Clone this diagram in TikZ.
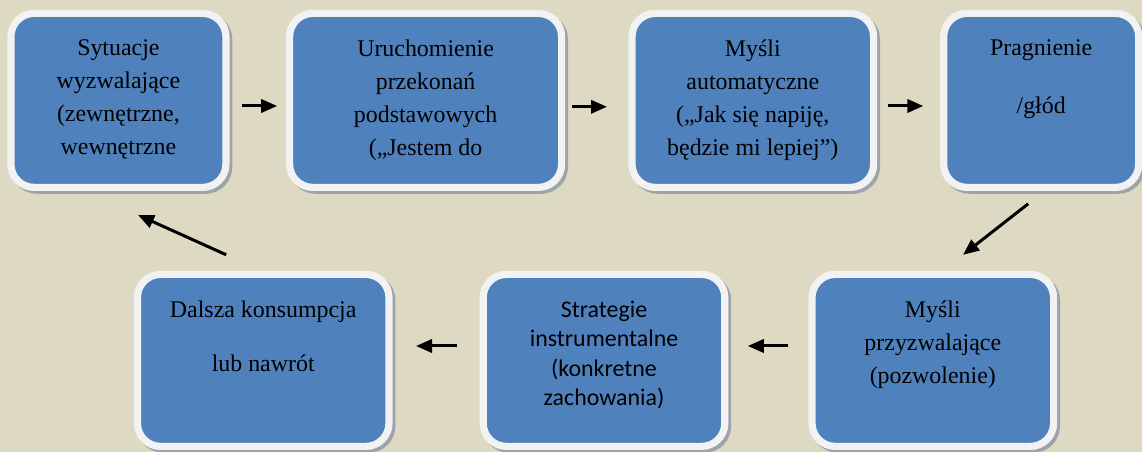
\documentclass[tikz,border=0pt]{standalone}
\usepackage{fontspec}
\setmainfont{Liberation Serif}
\newfontfamily\stageSans{Carlito}
\usetikzlibrary{arrows.meta,positioning}

\definecolor{tanBg}{HTML}{DDD9C3}
\definecolor{boxBlue}{HTML}{4F81BD}
\definecolor{rimWhite}{HTML}{F2F2F2}
\definecolor{shadowGray}{HTML}{9EA3A8}

\begin{document}
\begin{tikzpicture}[
    font=\fontsize{17}{23.5}\selectfont,
    stage/.style={draw=rimWhite, fill=boxBlue, line width=0.18cm,
      rounded corners=0.58cm, inner sep=0pt, outer sep=0pt,
      minimum height=4.35cm,
      preaction={draw=shadowGray, fill=shadowGray,
        transform canvas={shift={(0.07,-0.07)}}}},
    stageText/.style={anchor=north, align=center, inner sep=0pt},
    flow/.style={-{Triangle[length=0.4cm, width=0.33cm]}, line width=0.075cm},
  ]

% ---- background ------------------------------------------------------
\path[use as bounding box, fill=tanBg] (0,0) rectangle (28.55,11.3);

% ---- upper row -------------------------------------------------------
\node[stage, minimum width=5.375cm] (sit)  at (2.96,8.79)  {};
\node[stage, minimum width=6.8cm]   (bel)  at (10.64,8.79) {};
\node[stage, minimum width=6.04cm]  (aut)  at (18.82,8.79) {};
\node[stage, minimum width=4.875cm] (crav) at (26.03,8.79) {};

\node[stageText, below=0.65cm of sit.north] (sitT)
  {Sytuacje\\wyzwalające\\(zewnętrzne,\\wewnętrzne};
\node[stageText, below=0.65cm of bel.north] (belT)
  {Uruchomienie\\przekonań\\podstawowych\\(„Jestem do};
\node[stageText, below=0.65cm of aut.north] (autT)
  {Myśli\\automatyczne\\(„Jak się napiję,\\będzie mi lepiej”)};
\node[stageText, below=0.65cm of crav.north] (cravT)
  {Pragnienie\\[0.625cm]/głód};

% ---- lower row -------------------------------------------------------
\node[stage, minimum width=6.29cm, minimum height=4.3cm] (relapse) at (6.58,2.29) {};
\node[stage, minimum width=6.04cm, minimum height=4.3cm] (instr)   at (15.1,2.29) {};
\node[stage, minimum width=6.04cm, minimum height=4.3cm] (perm)    at (23.32,2.29) {};

\node[stageText, below=0.65cm of relapse.north] (relapseT)
  {Dalsza konsumpcja\\[0.525cm]lub nawrót};
\node[stageText, font=\stageSans\fontsize{17}{21}\selectfont,
      below=0.65cm of instr.north] (instrT)
  {Strategie\\instrumentalne\\(konkretne\\zachowania)};
\node[stageText, below=0.65cm of perm.north] (permT)
  {Myśli\\przyzwalające\\(pozwolenie)};

% ---- arrows ----------------------------------------------------------
\draw[flow, shorten <=0.4cm, shorten >=0.31cm]
  ([yshift=-0.14cm]sit.east) -- ([yshift=-0.14cm]bel.west);
\draw[flow, shorten <=0.26cm, shorten >=0.625cm]
  ([yshift=-0.16cm]bel.east) -- ([yshift=-0.16cm]aut.west);
\draw[flow, shorten <=0.36cm, shorten >=0.51cm]
  ([yshift=-0.14cm]aut.east) -- ([yshift=-0.14cm]crav.west);
\draw[flow] ([xshift=-0.325cm, yshift=-0.41cm]crav.south)
  -- ([xshift=0.756cm, yshift=0.49cm]perm.north);
\draw[flow, shorten <=0.6cm, shorten >=0.575cm]
  ([yshift=0.36cm]perm.west) -- ([yshift=0.36cm]instr.east);
\draw[flow, shorten <=0.66cm, shorten >=0.675cm]
  ([yshift=0.36cm]instr.west) -- ([yshift=0.36cm]relapse.east);
\draw[flow] ([xshift=-0.925cm, yshift=0.49cm]relapse.north)
  -- ([xshift=0.49cm, yshift=-0.69cm]sit.south);

\end{tikzpicture}
\end{document}
